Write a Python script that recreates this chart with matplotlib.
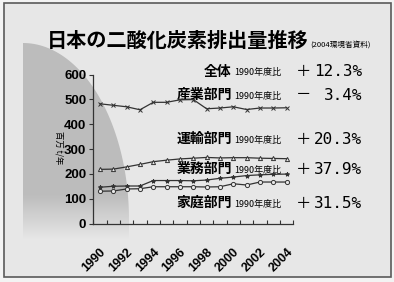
import numpy as np
import matplotlib
matplotlib.use("Agg")
import matplotlib.pyplot as plt
from matplotlib.patches import Rectangle, PathPatch
from matplotlib.path import Path

plt.rcParams['font.family'] = ['Noto Sans CJK JP', 'DejaVu Sans']

# data (million t CO2 / year)
years = list(range(1990, 2005))
industry = [482, 476, 470, 458, 488, 488, 498, 499, 462, 465, 470, 459, 465, 465, 466]
transport = [218, 219, 228, 238, 249, 255, 260, 263, 266, 264, 265, 265, 263, 262, 261]
commercial = [146, 150, 151, 151, 173, 173, 173, 172, 175, 182, 187, 193, 196, 198, 199]
residential = [130, 131, 139, 140, 148, 148, 148, 148, 147, 148, 160, 155, 167, 167, 167]

labels = ['全体', '産業部門', '運輸部門', '業務部門', '家庭部門']
signs = ['＋', '－', '＋', '＋', '＋']
pcts = ['12.3%', '3.4%', '20.3%', '37.9%', '31.5%']
label_y = [72, 95, 139, 169, 203]

W, H = 394, 282
fig = plt.figure(figsize=(W / 100, H / 100), dpi=100)
fig.patch.set_facecolor('#f3f3f3')

# background layer in pixel coordinates
bg = fig.add_axes([0, 0, 1, 1])
bg.set_xlim(0, W)
bg.set_ylim(H, 0)
bg.axis('off')
bg.add_patch(Rectangle((4, 3), 387, 274, facecolor='#e7e7e7', edgecolor='#5a5a5a', lw=1.2, zorder=0.5))

# grey quarter-ellipse shape on the left, fading out at the bottom
cx, cy, a, b = 23, 220, 106, 177
t = np.linspace(np.pi / 2, 0, 60)
pts = [(cx, 245)] + [(cx + a * np.cos(v), cy - b * np.sin(v)) for v in t] + [(cx + a, 245), (cx, 245)]
shape = PathPatch(Path(pts, closed=True), transform=bg.transData, facecolor='none', edgecolor='none')
bg.add_patch(shape)
alpha = np.clip((240 - np.linspace(40, 245, 200)) / 45, 0, 1).reshape(-1, 1)
rgba = np.zeros((200, 1, 4))
rgba[..., :3] = 0.74
rgba[..., 3] = alpha
im = bg.imshow(rgba, extent=(23, 140, 245, 40), aspect='auto', interpolation='bilinear', zorder=1)
im.set_clip_path(shape)
bg.set_xlim(0, W)
bg.set_ylim(H, 0)

bg.text(47, 40, '日本の二酸化炭素排出量推移', fontsize=14.5, fontweight='bold', ha='left', va='center')
bg.text(310, 45, '(2004環境省資料)', fontsize=5.5, ha='left', va='center')
bg.text(59, 148, '百万 t/年', fontsize=6, rotation=270, ha='center', va='center')

for lab, s, p, y in zip(labels, signs, pcts, label_y):
    bg.text(232, y, lab, fontsize=10, fontweight='bold', ha='right', va='center')
    bg.text(234, y + 1, '1990年度比', fontsize=6.5, ha='left', va='center')
    bg.text(296, y, s, fontsize=11, ha='left', va='center')
    bg.text(362, y, p, fontsize=11.5, family='DejaVu Sans Mono', ha='right', va='center')

# main chart
ax = fig.add_axes([93.3 / W, 1 - 223.5 / H, 200 / W, 149 / H])
ax.patch.set_alpha(0)
kw = dict(color='#333333', lw=0.9, markersize=3, markeredgewidth=0.7)
ax.plot(years, industry, marker='x', **kw)
ax.plot(years, transport, marker='^', markerfacecolor='#e7e7e7', **kw)
ax.plot(years, commercial, marker='*', **kw)
ax.plot(years, residential, marker='o', markerfacecolor='#e7e7e7', **kw)

ax.set_xlim(1989.5, 2004.5)
ax.set_ylim(0, 600)
for sp in ['top', 'right']:
    ax.spines[sp].set_visible(False)
for sp in ['left', 'bottom']:
    ax.spines[sp].set_color('#333333')
    ax.spines[sp].set_linewidth(0.9)

ax.set_yticks(range(0, 601, 100))
ax.tick_params(axis='y', direction='out', length=3, width=0.8, color='#333333', labelsize=9.5, pad=2)
for tl in ax.get_yticklabels():
    tl.set_family('Liberation Sans')
    tl.set_fontweight('bold')

ax.set_xticks(np.arange(1989.5, 2005, 1), minor=True)
ax.set_xticks(range(1990, 2005, 2))
ax.set_xticklabels([str(y) for y in range(1990, 2005, 2)], rotation=45, ha='right',
                   rotation_mode='anchor', family='Liberation Sans', fontweight='bold', fontsize=9)
ax.tick_params(axis='x', which='major', length=0, pad=16)
ax.tick_params(axis='x', which='minor', direction='in', length=3, width=0.8, color='#333333')

fig.savefig('out.png', dpi=100, facecolor=fig.get_facecolor())
